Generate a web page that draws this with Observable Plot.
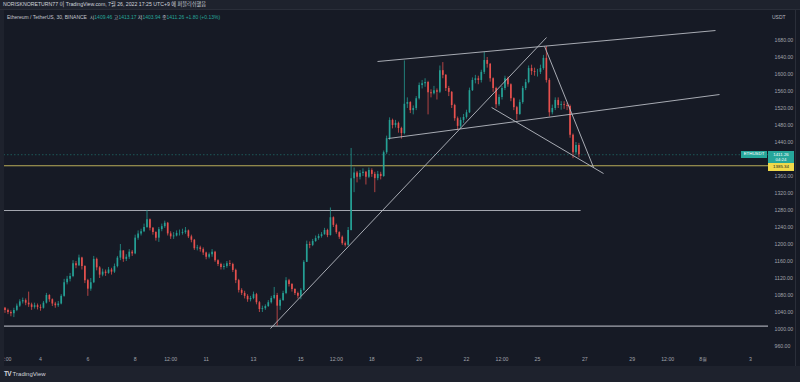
<!DOCTYPE html>
<html><head><meta charset="utf-8">
<script src="https://cdn.jsdelivr.net/npm/d3@7"></script>
<script src="https://cdn.jsdelivr.net/npm/@observablehq/plot@0.6"></script>
<style>
html,body{margin:0;padding:0;background:#161a25;width:800px;height:382px;overflow:hidden;font-family:"Liberation Sans","Noto Sans CJK KR",Arial,sans-serif;}
#wrap{position:relative;width:800px;height:382px;background:#161a25;}
#chart{position:absolute;left:0;top:0;}
#top{position:absolute;left:0;top:0;width:800px;height:10px;background:#1e222d;color:#d1d4dc;font-size:5.2px;line-height:9px;padding-left:3px;box-sizing:border-box;border-bottom:1px solid #2a2e39;white-space:nowrap;}
#info{position:absolute;left:7px;top:14px;font-size:5px;line-height:6px;color:#c4c7ce;white-space:nowrap;}
#info .v{color:#26a69a;}
#leftstrip{position:absolute;left:0;top:10px;width:3.5px;height:356px;background:#1e222d;}
#rightline{position:absolute;left:795px;top:10px;width:1px;height:356px;background:#2a2e39;}
#foot{position:absolute;left:0;top:366px;width:800px;height:16px;background:#1e222d;color:#d1d4dc;}
#logo{position:absolute;left:4px;top:4px;font-size:6px;line-height:8px;white-space:nowrap;}
#logo b{font-weight:900;letter-spacing:-0.6px;margin-right:1.5px;font-size:6.5px;}
.lab{position:absolute;font-size:4.4px;text-align:center;white-space:nowrap;overflow:hidden;box-sizing:border-box;}
#usdt{position:absolute;left:772px;top:14px;font-size:5px;color:#b2b5be;}
</style></head>
<body><div id="wrap">
<div id="chart"></div>
<div id="leftstrip"></div>
<div id="rightline"></div>
<div id="top">NORISKNORETURN77 이 TradingView.com, 7월 26, 2022 17:25 UTC+9 에 퍼블리쉬했음</div>
<div id="info">Ethereum / TetherUS, 30, BINANCE &nbsp;시<span class="v">1409.46</span> 고<span class="v">1413.17</span> 저<span class="v">1403.94</span> 종<span class="v">1411.26</span> <span class="v">+1.80 (+0.13%)</span></div>
<div id="usdt">USDT</div>
<div id="foot"><div id="logo"><b>TV</b>TradingView</div></div>
</div>
<script>
// Candles: 3-hour bars, time in days of July 2022
const startDay = 2.5;
const barStep = 0.125;
const firstOpen = 1050;
const closes = [1045,1040,1037,1045,1055,1065,1068,1062,1058,1052,
1056,1052,1050,1062,1080,1070,1060,1056,1060,1078,
1110,1118,1125,1155,1150,1168,1148,1115,1095,1110,
1165,1145,1128,1135,1132,1140,1135,1148,1168,1185,
1165,1170,1182,1178,1215,1225,1230,1240,1258,1238,
1228,1215,1235,1242,1250,1225,1218,1220,1226,1226,
1228,1232,1218,1210,1190,1192,1188,1180,1170,1176,
1182,1162,1153,1146,1148,1155,1153,1139,1115,1092,
1085,1078,1070,1073,1082,1063,1047,1049,1054,1063,
1073,1080,1055,1068,1085,1115,1106,1094,1085,1078,
1092,1158,1200,1198,1207,1214,1219,1223,1233,1221,
1263,1245,1228,1217,1202,1198,1233,1355,1368,1358,
1367,1370,1358,1374,1365,1355,1365,1360,1416,1449,
1492,1480,1485,1473,1461,1530,1534,1515,1520,1543,
1574,1578,1581,1557,1555,1562,1558,1609,1598,1567,
1558,1527,1496,1478,1492,1499,1510,1562,1586,1590,
1586,1605,1633,1624,1590,1567,1529,1546,1567,1590,
1576,1543,1522,1506,1534,1567,1581,1614,1607,1605,
1605,1614,1638,1586,1510,1520,1539,1527,1529,1527,
1525,1457,1416,1433,1411];
const highs = [1052,1048,1044,1050,1060,1070,1074,1072,1088,1062,
1062,1060,1058,1066,1085,1082,1072,1064,1066,1082,
1118,1125,1132,1162,1160,1175,1170,1150,1118,1120,
1172,1168,1148,1142,1140,1146,1144,1154,1172,1200,
1185,1176,1188,1186,1222,1232,1236,1248,1280,1260,
1240,1230,1240,1248,1255,1252,1230,1228,1232,1234,
1236,1240,1234,1222,1212,1198,1196,1192,1182,1180,
1188,1184,1164,1156,1154,1160,1162,1156,1142,1118,
1096,1090,1082,1078,1088,1085,1066,1055,1058,1068,
1078,1099,1085,1072,1090,1122,1118,1108,1096,1088,
1096,1162,1208,1206,1212,1220,1224,1228,1238,1236,
1286,1265,1248,1230,1220,1206,1240,1426,1380,1372,
1374,1378,1372,1380,1378,1370,1372,1370,1420,1455,
1498,1495,1492,1488,1476,1632,1545,1536,1526,1548,
1580,1586,1590,1584,1564,1572,1566,1620,1628,1600,
1572,1560,1530,1500,1498,1506,1516,1568,1592,1598,
1596,1610,1652,1640,1626,1592,1570,1552,1572,1596,
1594,1578,1545,1525,1540,1572,1588,1620,1622,1615,
1612,1622,1645,1666,1590,1528,1545,1545,1536,1536,
1532,1528,1460,1440,1438];
const lows = [1038,1035,1030,1028,1042,1052,1060,1056,1052,1045,
1048,1046,1043,1048,1060,1064,1054,1050,1052,1058,
1076,1105,1112,1122,1143,1148,1140,1108,1078,1090,
1108,1138,1120,1124,1125,1130,1128,1132,1145,1162,
1158,1160,1165,1172,1176,1210,1220,1228,1238,1232,
1222,1208,1205,1230,1238,1220,1212,1212,1218,1220,
1222,1224,1214,1204,1186,1185,1182,1174,1164,1166,
1170,1158,1148,1140,1140,1144,1148,1134,1108,1086,
1080,1072,1064,1065,1070,1058,1040,1040,1045,1052,
1060,1070,1008,1045,1066,1082,1100,1088,1080,1072,
1070,1090,1158,1190,1195,1205,1210,1215,1222,1216,
1220,1240,1224,1212,1198,1194,1196,1232,1322,1345,
1352,1360,1340,1355,1358,1322,1350,1352,1358,1412,
1445,1472,1474,1462,1448,1458,1520,1508,1505,1515,
1540,1566,1570,1505,1545,1552,1540,1555,1590,1560,
1548,1520,1490,1468,1472,1485,1495,1508,1560,1578,
1576,1580,1600,1615,1582,1558,1520,1525,1540,1562,
1570,1536,1515,1492,1504,1530,1562,1578,1598,1596,
1594,1600,1610,1580,1500,1505,1515,1520,1516,1518,
1515,1450,1402,1410,1404];

// Axes (1400.00 is hidden behind the price labels in the reference)
const yTicks = [960,1000,1040,1080,1120,1160,1200,1240,1280,1320,1360,1440,1480,1520,1560,1600,1640,1680];
const xTickDays = [2.5,4,6,8,9.5,11,13,15,16.5,18,20,22,23.5,25,27,29,30.5,32,34];
const xTickLabels = ["12:00","4","6","8","12:00","11","13","15","12:00","18","20","22","12:00","25","27","29","12:00","8월","3"];

// Drawings
const levels = [1008, 1385.34];
const levelColors = ["#a3a6af", "#b8ad58"];
const supportStart = [2.44];
const supportEnd = [26.82];
const supportPrice = [1280];
const lineX1 = [18.24, 18.70, 13.72, 23.06, 25.30];
const lineY1 = [1630.6, 1449.4, 1002.4, 1522.4, 1666];
const lineX2 = [32.52, 32.69, 25.38, 27.79, 27.37];
const lineY2 = [1703.5, 1552.9, 1687, 1367, 1381];
const lastPrice = 1411.26;
const alertPrice = 1385.34;

const up = "#26a69a", down = "#ef5350";
const bars = closes.map((c, i) => ({
  t: startDay + i * barStep,
  o: i ? closes[i - 1] : firstOpen,
  h: highs[i], l: lows[i], c
}));
bars.forEach(b => b.col = b.c >= b.o ? up : down);
const segs = lineX1.map((x, i) => ({x1: x, y1: lineY1[i], x2: lineX2[i], y2: lineY2[i]}));
const supp = supportPrice.map((p, i) => ({x1: supportStart[i], x2: supportEnd[i], p}));
const lvl = levels.map((p, i) => ({p, col: levelColors[i]}));
const labelOf = new Map(xTickDays.map((d, i) => [d, xTickLabels[i]]));

const chart = Plot.plot({
  width: 800, height: 366,
  marginLeft: 0, marginRight: 32, marginTop: 10, marginBottom: 14,
  style: {background: "transparent", fontFamily: "Liberation Sans, Arial, sans-serif", fontSize: "5.2px", color: "#a0a3ab", overflow: "visible"},
  x: {type: "linear", domain: [2.31, 34.76]},
  y: {domain: [945.9, 1750.6]},
  color: {type: "identity"},
  marks: [
    Plot.axisY({anchor: "right", ticks: yTicks, tickSize: 0, tickPadding: 6, tickFormat: d => d.toFixed(2), label: null, fill: "#a0a3ab"}),
    Plot.axisX({ticks: xTickDays, tickSize: 0, tickPadding: 5, tickFormat: d => labelOf.get(d), label: null, fill: "#a0a3ab"}),
    Plot.ruleY([lastPrice], {stroke: up, strokeOpacity: 0.55, strokeDasharray: "1.5,2", strokeWidth: 0.8}),
    Plot.ruleY(lvl, {y: "p", stroke: "col", strokeWidth: 1.1}),
    Plot.link(supp, {x1: "x1", x2: "x2", y1: "p", y2: "p", stroke: "#a3a6af", strokeWidth: 1.1}),
    Plot.ruleX(bars, {x: "t", y1: "l", y2: "h", stroke: "col", strokeWidth: 0.8, strokeOpacity: 0.9}),
    Plot.ruleX(bars, {x: "t", y1: "o", y2: "c", stroke: "col", strokeWidth: 1.7, strokeOpacity: 0.9}),
    Plot.link(segs, {x1: "x1", y1: "y1", x2: "x2", y2: "y2", stroke: "#b8bbc3", strokeWidth: 0.9})
  ]
});
document.getElementById("chart").appendChild(chart);

// Price labels positioned through the chart's own scales
const ys = chart.scale("y");
const yp = ys.apply(lastPrice);
const wrap = document.getElementById("wrap");
function box(html, left, top, w, h, bg, color, lh) {
  const d = document.createElement("div");
  d.className = "lab";
  d.innerHTML = html;
  Object.assign(d.style, {left: left + "px", top: top + "px", width: w + "px", height: h + "px", background: bg, color, lineHeight: lh + "px"});
  wrap.appendChild(d);
  return d;
}
box("ETHUSDT", 741, yp - 3, 26, 6.5, up, "#ffffff", 6.5);
box(lastPrice.toFixed(2) + "<br>04:24", 768, yp - 3, 26, 11.5, up, "#ffffff", 5.2).style.paddingTop = "0.6px";
box(alertPrice.toFixed(2), 768, yp + 9, 26, 7.5, "#f0d94a", "#131722", 7.5);
</script>
</body></html>
